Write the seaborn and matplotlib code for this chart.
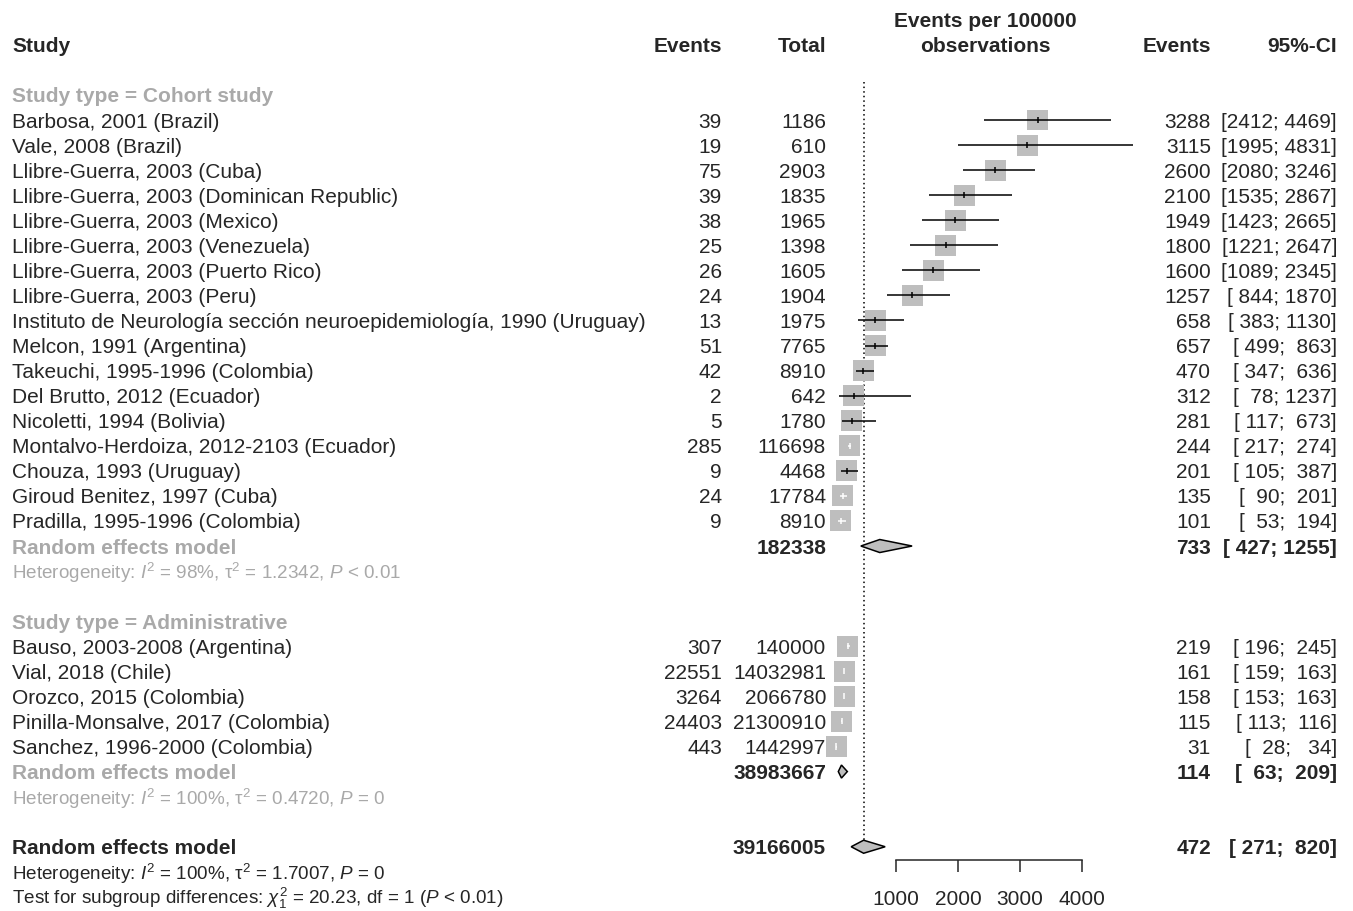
import numpy as np
import matplotlib
matplotlib.use('Agg')
import matplotlib.pyplot as plt
import seaborn as sns
from matplotlib.patches import Polygon
from matplotlib.transforms import blended_transform_factory

# cohort studies
cohort_study = ['Barbosa, 2001 (Brazil)', 'Vale, 2008 (Brazil)', 'Llibre-Guerra, 2003 (Cuba)',
                'Llibre-Guerra, 2003 (Dominican Republic)', 'Llibre-Guerra, 2003 (Mexico)',
                'Llibre-Guerra, 2003 (Venezuela)', 'Llibre-Guerra, 2003 (Puerto Rico)',
                'Llibre-Guerra, 2003 (Peru)',
                'Instituto de Neurología sección neuroepidemiología, 1990 (Uruguay)',
                'Melcon, 1991 (Argentina)', 'Takeuchi, 1995-1996 (Colombia)',
                'Del Brutto, 2012 (Ecuador)', 'Nicoletti, 1994 (Bolivia)',
                'Montalvo-Herdoiza, 2012-2103 (Ecuador)', 'Chouza, 1993 (Uruguay)',
                'Giroud Benitez, 1997 (Cuba)', 'Pradilla, 1995-1996 (Colombia)']
cohort_events = [39, 19, 75, 39, 38, 25, 26, 24, 13, 51, 42, 2, 5, 285, 9, 24, 9]
cohort_total = [1186, 610, 2903, 1835, 1965, 1398, 1605, 1904, 1975, 7765, 8910, 642, 1780,
                116698, 4468, 17784, 8910]
cohort_rate = [3288, 3115, 2600, 2100, 1949, 1800, 1600, 1257, 658, 657, 470, 312, 281, 244, 201, 135, 101]
cohort_lo = [2412, 1995, 2080, 1535, 1423, 1221, 1089, 844, 383, 499, 347, 78, 117, 217, 105, 90, 53]
cohort_hi = [4469, 4831, 3246, 2867, 2665, 2647, 2345, 1870, 1130, 863, 636, 1237, 673, 274, 387, 201, 194]

# administrative studies
admin_study = ['Bauso, 2003-2008 (Argentina)', 'Vial, 2018 (Chile)', 'Orozco, 2015 (Colombia)',
               'Pinilla-Monsalve, 2017 (Colombia)', 'Sanchez, 1996-2000 (Colombia)']
admin_events = [307, 22551, 3264, 24403, 443]
admin_total = [140000, 14032981, 2066780, 21300910, 1442997]
admin_rate = [219, 161, 158, 115, 31]
admin_lo = [196, 159, 153, 113, 28]
admin_hi = [245, 163, 163, 116, 34]

# pooled estimates: total, rate, lower, upper
cohort_re = [182338, 733, 427, 1255]
admin_re = [38983667, 114, 63, 209]
overall_re = [39166005, 472, 271, 820]

het_cohort = r'Heterogeneity: $I^2$ = 98%, $\mathrm{\tau}^2$ = 1.2342, $P$ < 0.01'
het_admin = r'Heterogeneity: $I^2$ = 100%, $\mathrm{\tau}^2$ = 0.4720, $P$ = 0'
het_overall = r'Heterogeneity: $I^2$ = 100%, $\mathrm{\tau}^2$ = 1.7007, $P$ = 0'
test_sub = r'Test for subgroup differences: $\chi^2_1$ = 20.23, df = 1 ($P$ < 0.01)'
ticks = [1000, 2000, 3000, 4000]

sns.set_style('white')
plt.rcParams['font.family'] = ['Liberation Sans', 'DejaVu Sans']
plt.rcParams['mathtext.fontset'] = 'custom'
plt.rcParams['mathtext.rm'] = 'Liberation Sans'
plt.rcParams['mathtext.it'] = 'Liberation Sans:italic'
plt.rcParams['mathtext.bf'] = 'Liberation Sans:bold'

W, H = 1353, 912
fig = plt.figure(figsize=(W / 100, H / 100), dpi=100)
ax = fig.add_axes([0, 0, 1, 1])
ax.axis('off')

# pixel -> data mapping (x: events per 100000, y: row number)
x0, xscale = 834.4, 61.9 / 1000
ax.set_xlim(-x0 / xscale, (W - x0) / xscale)
y_first, dy = 121, 25.06
ax.set_ylim(4 + (H - y_first) / dy, 4 - y_first / dy)

fs = 15
fs_het = 13.6
grey = '#A9A9A9'
box_col = '#BEBEBE'
tr = blended_transform_factory(fig.transFigure, ax.transData)


def txt(px, row, s, ha='left', size=fs, **kw):
    ax.text(px / W, row + 0.04, s, transform=tr, ha=ha, va='center', fontsize=size, **kw)


def ci_str(lo, hi):
    return '[%4d; %4d]' % (lo, hi)


def study_rows(start, names, ev, tot, rate, lo, hi):
    rows = np.arange(start, start + len(names))
    box_w = 21 / 61.9 * 1000
    for r, n, e, t, m, l, h in zip(rows, names, ev, tot, rate, lo, hi):
        txt(12, r, n)
        txt(722, r, str(e), ha='right')
        txt(826, r, str(t), ha='right')
        txt(1211, r, str(m), ha='right')
        txt(1337, r, ci_str(l, h), ha='right')
        c = 'white' if (h - l) < 0.6 * box_w else 'black'
        ax.hlines(r, l, h, color=c, lw=1.1, zorder=3)
        ax.vlines(m, r - 0.12, r + 0.12, color=c, lw=1.1, zorder=3)
    sns.scatterplot(x=rate, y=rows, marker='s', s=228, color=box_col, edgecolor='none',
                    linewidth=0, ax=ax, zorder=2, legend=False)
    return rows


def diamond(row, est, lo, hi):
    hh = 0.26
    ax.add_patch(Polygon([(lo, row), (est, row - hh), (hi, row), (est, row + hh)],
                         closed=True, facecolor=box_col, edgecolor='black', lw=1.1, zorder=3))


# header
txt(12, 1, 'Study', fontweight='bold')
txt(722, 1, 'Events', ha='right', fontweight='bold')
txt(826, 1, 'Total', ha='right', fontweight='bold')
txt(985, 0, 'Events per 100000', ha='center', fontweight='bold')
txt(985, 1, 'observations', ha='center', fontweight='bold')
txt(1211, 1, 'Events', ha='right', fontweight='bold')
txt(1337, 1, '95%-CI', ha='right', fontweight='bold')

# cohort group
txt(12, 3, 'Study type = Cohort study', fontweight='bold', color=grey)
study_rows(4, cohort_study, cohort_events, cohort_total, cohort_rate, cohort_lo, cohort_hi)
txt(12, 21, 'Random effects model', fontweight='bold', color=grey)
txt(826, 21, str(cohort_re[0]), ha='right', fontweight='bold')
txt(1211, 21, str(cohort_re[1]), ha='right', fontweight='bold')
txt(1337, 21, ci_str(*cohort_re[2:]), ha='right', fontweight='bold')
diamond(21, *cohort_re[1:])
txt(12, 22, het_cohort, size=fs_het, color=grey)

# administrative group
txt(12, 24, 'Study type = Administrative', fontweight='bold', color=grey)
study_rows(25, admin_study, admin_events, admin_total, admin_rate, admin_lo, admin_hi)
txt(12, 30, 'Random effects model', fontweight='bold', color=grey)
txt(826, 30, str(admin_re[0]), ha='right', fontweight='bold')
txt(1211, 30, str(admin_re[1]), ha='right', fontweight='bold')
txt(1337, 30, ci_str(*admin_re[2:]), ha='right', fontweight='bold')
diamond(30, *admin_re[1:])
txt(12, 31, het_admin, size=fs_het, color=grey)

# overall
txt(12, 33, 'Random effects model', fontweight='bold')
txt(826, 33, str(overall_re[0]), ha='right', fontweight='bold')
txt(1211, 33, str(overall_re[1]), ha='right', fontweight='bold')
txt(1337, 33, ci_str(*overall_re[2:]), ha='right', fontweight='bold')
diamond(33, *overall_re[1:])
txt(12, 34, het_overall, size=fs_het)
txt(12, 35, test_sub, size=fs_het)

# reference line at overall estimate
ax.vlines(overall_re[1], 2.48, 32.77, color='black', lw=1.1, linestyles=(0, (1, 2)), zorder=1)

# x axis
bx = fig.add_axes([0, 1 - 861 / H, 1, 1e-4])
bx.set_facecolor('none')
bx.set_xlim(ax.get_xlim())
for s in ['top', 'left', 'right']:
    bx.spines[s].set_visible(False)
bx.spines['bottom'].set_bounds(ticks[0], ticks[-1])
bx.spines['bottom'].set_linewidth(1.1)
bx.set_yticks([])
bx.set_xticks(ticks)
bx.set_xticklabels([str(t) for t in ticks])
bx.tick_params(axis='x', direction='out', length=8.6, width=1.1, pad=12.5, labelsize=fs,
               bottom=True)

fig.savefig('out.png', dpi=100)
